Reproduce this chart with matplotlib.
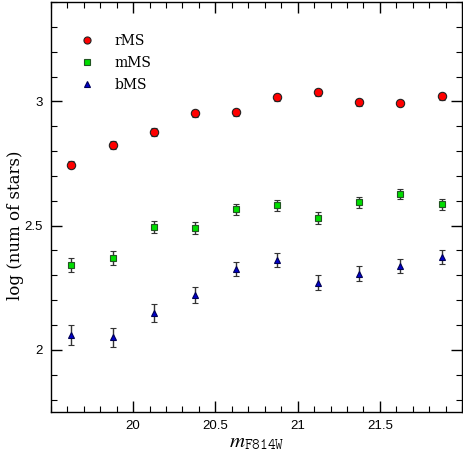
import numpy as np
import matplotlib
matplotlib.use('Agg')
import matplotlib.pyplot as plt
from matplotlib.ticker import MultipleLocator, FormatStrFormatter
from matplotlib.lines import Line2D

plt.rcParams['mathtext.fontset'] = 'stix'

# magnitude bins
mag = [19.625, 19.875, 20.125, 20.375, 20.625, 20.875, 21.125, 21.375, 21.625, 21.875]

# log(number of stars) for each sequence
rms = [2.745, 2.824, 2.876, 2.952, 2.956, 3.016, 3.036, 2.996, 2.994, 3.020]
rms_err = [0.015, 0.015, 0.015, 0.014, 0.014, 0.013, 0.013, 0.013, 0.013, 0.013]
mms = [2.341, 2.370, 2.494, 2.490, 2.566, 2.582, 2.530, 2.594, 2.627, 2.586]
mms_err = [0.028, 0.028, 0.024, 0.024, 0.022, 0.022, 0.023, 0.022, 0.021, 0.022]
bms = [2.059, 2.050, 2.150, 2.221, 2.325, 2.362, 2.270, 2.306, 2.338, 2.374]
bms_err = [0.04, 0.04, 0.036, 0.033, 0.029, 0.028, 0.031, 0.030, 0.029, 0.028]

xticks = [20, 20.5, 21, 21.5]
yticks = [2, 2.5, 3]

fig = plt.figure(figsize=(4.63, 4.51), dpi=100)
ax = fig.add_axes([0.110, 0.0865, 0.888, 0.909])

ekw = dict(ls='none', ecolor='#333333', elinewidth=1.0, capsize=2, capthick=1.0)
sty = {
    'rMS': dict(marker='o', ms=6, mfc='#ff0000', mec='#222222', mew=0.8),
    'mMS': dict(marker='s', ms=4.8, mfc='#00dd00', mec='#225522', mew=0.8),
    'bMS': dict(marker='^', ms=5, mfc='#0000cc', mec='#000055', mew=0.8),
}
ax.errorbar(mag, rms, yerr=rms_err, **sty['rMS'], **ekw)
ax.errorbar(mag, mms, yerr=mms_err, **sty['mMS'], **ekw)
ax.errorbar(mag, bms, yerr=bms_err, **sty['bMS'], **ekw)

ax.set_xlim(19.5, 22.0)
ax.set_ylim(1.75, 3.4)
ax.set_xticks(xticks)
ax.set_yticks(yticks)
ax.xaxis.set_major_formatter(FormatStrFormatter('%g'))
ax.yaxis.set_major_formatter(FormatStrFormatter('%g'))
ax.xaxis.set_minor_locator(MultipleLocator(0.1))
ax.yaxis.set_minor_locator(MultipleLocator(0.1))
ax.tick_params(which='both', direction='in', top=True, right=True, labelsize=9.5)
ax.tick_params(which='major', length=8, width=1, pad=6)
ax.tick_params(which='minor', length=4, width=0.8)
for lab in ax.get_xticklabels() + ax.get_yticklabels():
    lab.set_family('Liberation Sans')
for s in ax.spines.values():
    s.set_linewidth(1.0)

ax.set_xlabel(r'$m_{\mathtt{F814W}}$', fontsize=15, labelpad=0)
ax.set_ylabel('log (num of stars)', fontsize=12, family='DejaVu Serif')
ax.yaxis.set_label_coords(-0.066, 0.456)

handles = [Line2D([], [], ls='none', **{**sty[k], 'ms': sty[k]['ms'] * 0.85}) for k in ['rMS', 'mMS', 'bMS']]
ax.legend(handles, ['rMS', 'mMS', 'bMS'], loc='upper left', bbox_to_anchor=(0.04, 0.935),
          frameon=False, handletextpad=1.0, labelspacing=0.55, borderaxespad=0,
          prop={'family': 'DejaVu Serif', 'size': 10})

fig.savefig('out.png', dpi=100)
